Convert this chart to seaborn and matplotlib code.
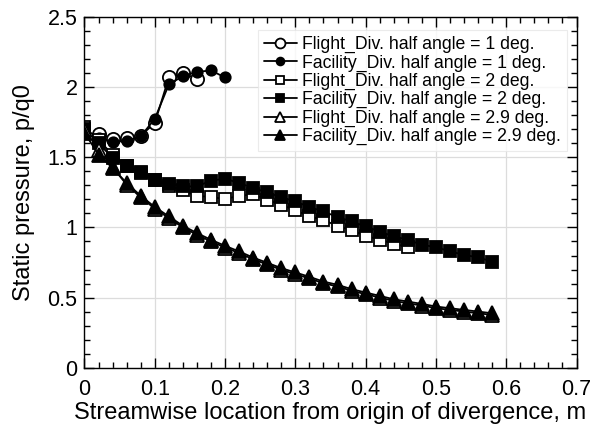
import numpy as np
import pandas as pd
import matplotlib
matplotlib.use("Agg")
import matplotlib.pyplot as plt
import seaborn as sns
from matplotlib.ticker import MultipleLocator

# ---- data ----
x_f1 = [0.02, 0.04, 0.06, 0.08, 0.10, 0.12, 0.14, 0.16]
y_f1 = [1.67, 1.63, 1.64, 1.655, 1.745, 2.07, 2.10, 2.06]

x_c1 = [0.02, 0.04, 0.06, 0.08, 0.10, 0.12, 0.14, 0.16, 0.18, 0.20]
y_c1 = [1.64, 1.61, 1.62, 1.65, 1.775, 2.02, 2.08, 2.11, 2.12, 2.07]

x_f2 = [0.00, 0.02, 0.04, 0.06, 0.08, 0.10, 0.12, 0.14, 0.16, 0.18, 0.20, 0.22,
        0.24, 0.26, 0.28, 0.30, 0.32, 0.34, 0.36, 0.38, 0.40, 0.42, 0.44, 0.46]
y_f2 = [1.715, 1.626, 1.519, 1.436, 1.39, 1.34, 1.298, 1.264, 1.226, 1.217, 1.203, 1.226,
        1.237, 1.198, 1.16, 1.123, 1.079, 1.052, 1.012, 0.979, 0.941, 0.912, 0.884, 0.86]

x_c2 = [0.00, 0.02, 0.04, 0.06, 0.08, 0.10, 0.12, 0.14, 0.16, 0.18, 0.20, 0.22,
        0.24, 0.26, 0.28, 0.30, 0.32, 0.34, 0.36, 0.38, 0.40, 0.42, 0.44, 0.46,
        0.48, 0.50, 0.52, 0.54, 0.56, 0.58]
y_c2 = [1.70, 1.60, 1.496, 1.436, 1.393, 1.341, 1.312, 1.293, 1.293, 1.334, 1.348, 1.317,
        1.281, 1.25, 1.215, 1.186, 1.146, 1.114, 1.074, 1.043, 1.007, 0.971, 0.936, 0.912,
        0.876, 0.86, 0.829, 0.805, 0.786, 0.757]

x_f3 = x_c2
y_f3 = [1.70, 1.555, 1.43, 1.305, 1.215, 1.135, 1.067, 1.0, 0.948, 0.90, 0.857, 0.817,
        0.773, 0.736, 0.698, 0.667, 0.636, 0.602, 0.579, 0.548, 0.524, 0.50, 0.476, 0.459,
        0.443, 0.424, 0.412, 0.40, 0.388, 0.376]

x_c3 = x_c2
y_c3 = [1.675, 1.52, 1.424, 1.317, 1.226, 1.146, 1.079, 1.012, 0.96, 0.912, 0.869, 0.829,
        0.785, 0.748, 0.71, 0.679, 0.648, 0.614, 0.591, 0.56, 0.536, 0.512, 0.488, 0.471,
        0.455, 0.436, 0.424, 0.412, 0.40, 0.388]

labels = ["Flight_Div. half angle = 1 deg.",
          "Facility_Div. half angle = 1 deg.",
          "Flight_Div. half angle = 2 deg.",
          "Facility_Div. half angle = 2 deg.",
          "Flight_Div. half angle = 2.9 deg.",
          "Facility_Div. half angle = 2.9 deg."]
xtick_labels = ["0", "0.1", "0.2", "0.3", "0.4", "0.5", "0.6", "0.7"]
ytick_labels = ["0", "0.5", "1", "1.5", "2", "2.5"]

sns.set_style("ticks")
plt.rcParams["font.family"] = ["Liberation Sans", "DejaVu Sans"]
plt.rcParams["text.color"] = "black"
plt.rcParams["axes.labelcolor"] = "black"

fig = plt.figure(figsize=(5.95, 4.3), dpi=100)
ax = fig.add_axes([0.142, 0.145, 0.827, 0.815])

series = [
    (x_f1, y_f1, "o", "white", 9.5),
    (x_c1, y_c1, "o", "black", 7.5),
    (x_f2, y_f2, "s", "white", 8.5),
    (x_c2, y_c2, "s", "black", 8.5),
    (x_f3, y_f3, "^", "white", 9.5),
    (x_c3, y_c3, "^", "black", 9.5),
]
for (xs, ys, m, fc, ms), lab in zip(series, labels):
    df = pd.DataFrame({"x": xs, "y": ys})
    sns.lineplot(data=df, x="x", y="y", ax=ax, color="black", linewidth=1.3,
                 marker=m, markersize=ms, markerfacecolor=fc, markeredgecolor="black",
                 markeredgewidth=1.3, label=lab, legend=False)

ax.set_xlim(0, 0.7)
ax.set_ylim(0, 2.5)
ax.set_xticks(np.arange(0, 0.71, 0.1))
ax.set_xticklabels(xtick_labels)
ax.set_yticks(np.arange(0, 2.51, 0.5))
ax.set_yticklabels(ytick_labels)
ax.xaxis.set_minor_locator(MultipleLocator(0.02))
ax.yaxis.set_minor_locator(MultipleLocator(0.1))
ax.tick_params(which="both", direction="in", top=True, right=True, colors="black",
               labelsize=15.5, width=1)
ax.tick_params(which="major", length=7.5)
ax.tick_params(which="minor", length=4.5)
ax.tick_params(axis="x", which="major", pad=8.5)
ax.tick_params(axis="y", which="major", pad=5)
ax.grid(True, which="major", color="#dcdcdc", linewidth=0.9)
ax.set_axisbelow(True)
for s in ax.spines.values():
    s.set_color("black")
    s.set_linewidth(1.0)

ax.set_xlabel("Streamwise location from origin of divergence, m", fontsize=17, labelpad=1,
              color="black")
ax.set_ylabel("Static pressure, p/q0", fontsize=17, labelpad=9, color="black")

leg = ax.legend(loc="upper right", bbox_to_anchor=(0.980, 0.964), borderaxespad=0,
                fontsize=12.7, labelspacing=0.07, handlelength=1.9, handletextpad=0.25,
                frameon=True, fancybox=False, borderpad=0.35, markerscale=0.75)
leg.get_frame().set_edgecolor("#e6e6e6")
leg.get_frame().set_linewidth(0.8)
for t in leg.get_texts():
    t.set_color("black")

fig.savefig("out.png", dpi=100)
